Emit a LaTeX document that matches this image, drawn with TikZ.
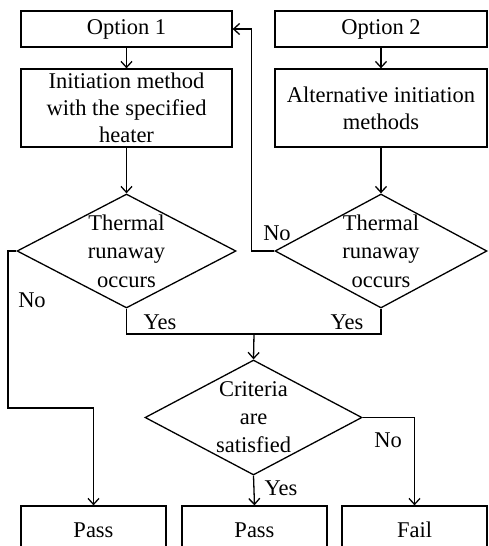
\documentclass[tikz,border=0pt]{standalone}
\usepackage{fontspec}
\setmainfont{Liberation Serif}
\usetikzlibrary{shapes.geometric,arrows.meta,calc}
\begin{document}
\begin{tikzpicture}[x=1pt,y=-1pt,
  font=\fontsize{22.5}{27}\selectfont,
  line width=1.3pt,
  boxnode/.style={draw,rectangle,line width=1.3pt,inner sep=0pt,align=center,minimum height=#1},
  decision/.style={draw,diamond,line width=1.3pt,inner sep=0pt,minimum width=#1},
  arr/.style={line width=1.3pt,-{Straight Barb[length=6pt,width=11pt,line width=1.3pt]}},
  conn/.style={line width=1.3pt},
  lbl/.style={inner sep=0pt}]
\useasboundingbox (0,0) rectangle (488,546);
% boxes
\node[boxnode=36pt,minimum width=211pt] (opt1) at (126.5,29) {Option 1};
\node[boxnode=36pt,minimum width=212pt] (opt2) at (381,29) {Option 2};
\node[boxnode=78pt,minimum width=211pt] (init) at (126.5,108) {Initiation method\\with the specified\\heater};
\node[boxnode=78pt,minimum width=212pt] (alt) at (381,108) {Alternative initiation\\methods};
% decisions
\node[decision=219pt,minimum height=114pt,label={[align=center,font=\fontsize{22.5}{28.5}\selectfont]center:Thermal\\runaway\\occurs}] (d1) at (126.5,251) {};
\node[decision=212pt,minimum height=114pt,label={[align=center,font=\fontsize{22.5}{28.5}\selectfont]center:Thermal\\runaway\\occurs}] (d2) at (381,251) {};
\node[decision=217pt,minimum height=115pt,label={[align=center,font=\fontsize{22.5}{28}\selectfont]center:Criteria\\are\\satisfied}] (d3) at (253.5,417.5) {};
% results
\node[boxnode=48pt,minimum width=145pt] (pass1) at (93.5,530) {Pass};
\node[boxnode=48pt,minimum width=145pt] (pass2) at (254.5,530) {Pass};
\node[boxnode=48pt,minimum width=145pt] (fail) at (414.5,530) {Fail};
% helper coordinates
\coordinate (n1) at (8,408);
\coordinate (jn) at (254,334);
% connectors
\draw[arr] (opt1) -- (init);
\draw[arr] (opt2) -- (alt);
\draw[arr] (init) -- (d1.north);
\draw[arr] (alt) -- (d2.north);
\draw[arr] (d2.west) -- ++(-23,0) |- (opt1.east);
\draw[arr] (d1.west) -| (n1) -| (pass1.north);
\draw[conn] (d1.south) |- (jn) -| (d2.south);
\draw[arr] (jn) -- (d3.north);
\draw[arr] (d3.east) -| (fail.north);
\draw[arr] (d3.south) -- (pass2.north);
% labels
\node[lbl] (lno2) at (277,233) {No};
\node[lbl] (lno1) at (32,300) {No};
\node[lbl] (lyes1) at (160,322) {Yes};
\node[lbl] (lyes2) at (347,322) {Yes};
\node[lbl] (lno3) at (388,440) {No};
\node[lbl] (lyes3) at (281,488) {Yes};
\end{tikzpicture}
\end{document}
